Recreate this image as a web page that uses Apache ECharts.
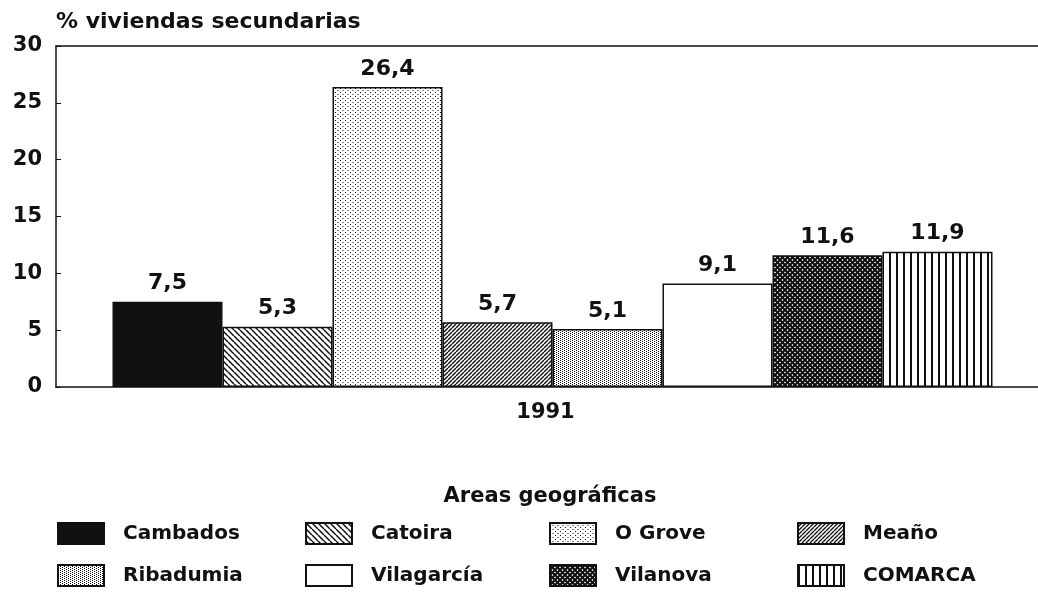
<!DOCTYPE html>
<html>
<head>
    <meta charset="utf-8">
    <title>% viviendas secundarias 1991</title>
    <script src="https://cdn.jsdelivr.net/npm/echarts@6.0.0/dist/echarts.min.js"></script>
    <style>
        html, body { margin: 0; padding: 0; background: #fff; }
        #chart { width: 1038px; height: 594px; }
    </style>
</head>
<body>
<div id="chart"></div>
<script>
    // datos
    var years = ['1991'];
    var areas = ['Cambados', 'Catoira', 'O Grove', 'Meaño', 'Ribadumia', 'Vilagarcía', 'Vilanova', 'COMARCA'];
    var values = [7.5, 5.3, 26.4, 5.7, 5.1, 9.1, 11.6, 11.9];
    var yTicks = [0, 5, 10, 15, 20, 25, 30];

    var INK = '#111';
    var FONT = 'DejaVu Sans';

    // tramas de relleno (como en el original impreso)
    function pattern(w, h, draw, bg) {
        var c = document.createElement('canvas');
        c.width = w; c.height = h;
        var g = c.getContext('2d');
        g.fillStyle = bg || '#fff';
        g.fillRect(0, 0, w, h);
        g.fillStyle = INK;
        g.strokeStyle = INK;
        draw(g, w, h);
        return { image: c, repeat: 'repeat' };
    }
    function diag(g, w, h, back, lw) {
        g.lineWidth = lw || 1.4;
        g.beginPath();
        for (var k = -1; k <= 1; k++) {
            if (back) { g.moveTo(k * w, 0); g.lineTo(k * w + w, h); }
            else { g.moveTo(k * w, h); g.lineTo(k * w + w, 0); }
        }
        g.stroke();
    }
    var fills = [
        INK,
        pattern(6, 6, function (g, w, h) { diag(g, w, h, true, 1.5); }),
        pattern(5, 4, function (g) { g.fillRect(0, 0, 1, 1); g.fillRect(2.5, 2, 1, 1); }),
        pattern(4, 4, function (g, w, h) { diag(g, w, h, false, 1.4); }),
        pattern(4, 4, function (g) {
            g.fillRect(0, 0, 1, 1); g.fillRect(2, 1, 1, 1);
            g.fillRect(0, 2, 1, 1); g.fillRect(2, 3, 1, 1);
        }),
        '#fff',
        pattern(5, 5, function (g, w, h) { diag(g, w, h, true, 2.1); diag(g, w, h, false, 2.1); }),
        pattern(7, 4, function (g) { g.fillRect(0, 0, 2, 4); })
    ];

    var chart = echarts.init(document.getElementById('chart'));

    var series = areas.map(function (name, i) {
        return {
            name: name,
            type: 'bar',
            data: [values[i]],
            barWidth: 110,
            barGap: '0%',
            itemStyle: { color: fills[i], borderColor: INK, borderWidth: 1.5 },
            label: {
                show: true,
                position: 'top',
                distance: 7,
                color: INK,
                fontFamily: FONT,
                fontWeight: 'bold',
                fontSize: 22,
                formatter: function (p) { return String(p.value).replace('.', ','); }
            }
        };
    });

    // leyenda en 4 columnas x 2 filas
    var colX = [57, 305, 549, 797];
    var rowY = [522, 564];
    var legends = areas.map(function (name, i) {
        return {
            data: [name],
            left: colX[i % 4],
            top: rowY[Math.floor(i / 4)],
            padding: 0,
            icon: 'rect',
            itemWidth: 46,
            itemHeight: 21,
            selectedMode: false,
            textStyle: {
                color: INK,
                fontFamily: FONT,
                fontWeight: 'bold',
                fontSize: 20,
                padding: [0, 0, 0, 14]
            }
        };
    });

    var option = {
        animation: false,
        backgroundColor: '#fff',
        title: {
            text: 'Areas geográficas',
            left: 545,
            top: 481,
            textAlign: 'center',
            textStyle: { color: INK, fontFamily: FONT, fontWeight: 'bold', fontSize: 21 }
        },
        legend: legends,
        grid: { left: 56, right: -11, top: 46, bottom: 207, outerBoundsMode: 'none' },
        xAxis: [{
            type: 'category',
            data: years,
            axisLine: { lineStyle: { color: INK, width: 1.5 } },
            axisTick: { show: false },
            axisLabel: {
                color: INK, fontFamily: FONT, fontWeight: 'bold', fontSize: 21, margin: 15,
                padding: [0, 14, 0, 0]
            }
        }, {
            type: 'category',
            data: years,
            position: 'top',
            axisLine: { show: true, lineStyle: { color: INK, width: 1.5 } },
            axisTick: { show: false },
            axisLabel: { show: false }
        }],
        yAxis: {
            type: 'value',
            min: yTicks[0],
            max: yTicks[yTicks.length - 1],
            interval: yTicks[1] - yTicks[0],
            name: '% viviendas secundarias',
            nameLocation: 'end',
            nameGap: 24,
            nameTextStyle: {
                color: INK, fontFamily: FONT, fontWeight: 'bold', fontSize: 22,
                align: 'left', verticalAlign: 'middle'
            },
            axisLine: { show: true, lineStyle: { color: INK, width: 1.5 } },
            axisTick: { show: true, inside: true, length: 5, lineStyle: { color: INK } },
            splitLine: { show: false },
            axisLabel: {
                color: INK, fontFamily: FONT, fontWeight: 'bold', fontSize: 21, margin: 14
            }
        },
        series: series
    };

    chart.setOption(option);
</script>
</body>
</html>
